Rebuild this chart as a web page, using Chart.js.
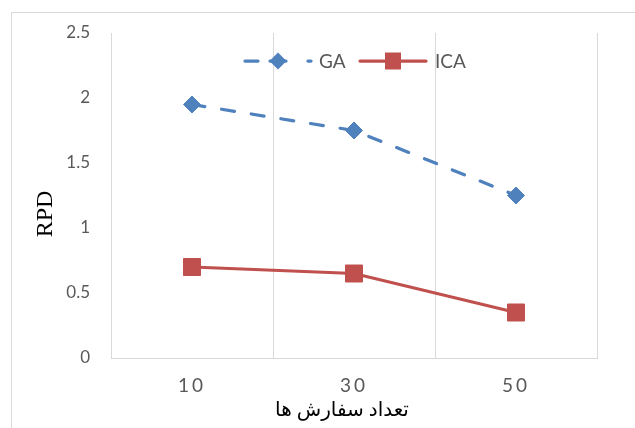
<!DOCTYPE html>
<html>
<head>
<meta charset="utf-8">
<script src="https://cdn.jsdelivr.net/npm/chart.js@4/dist/chart.umd.min.js"></script>
<style>
  html, body { margin: 0; padding: 0; background: #ffffff; }
  #wrap { width: 635px; height: 428px; position: relative; }
</style>
</head>
<body>
<div id="wrap"><canvas id="c" width="635" height="428"></canvas></div>
<script>
// ---- data ----
const categories = ['10', '30', '50'];
const gaValues = [1.95, 1.75, 1.25];
const icaValues = [0.70, 0.65, 0.35];
const yTickLabels = ['0', '0.5', '1', '1.5', '2', '2.5'];
const seriesNames = ['GA', 'ICA'];
const xTitle = 'تعداد سفارش ها';
const yTitle = 'RPD';

const BLUE = '#4F81BD';
const RED = '#C0504D';
const GRID = '#d9d9d9';
const TXT = '#595959';

// category scale with letter-spaced tick labels
class SpacedCategoryScale extends Chart.CategoryScale {
  drawLabels(area) {
    const ctx = this.ctx;
    ctx.save();
    ctx.letterSpacing = '3px';
    super.drawLabels(area);
    ctx.restore();
  }
}
SpacedCategoryScale.id = 'spacedCategory';
SpacedCategoryScale.defaults = Chart.CategoryScale.defaults;
Chart.register(SpacedCategoryScale);

const decor = {
  id: 'decor',
  beforeDraw(chart) {
    const ctx = chart.ctx;
    ctx.save();
    ctx.fillStyle = '#ffffff';
    ctx.fillRect(0, 0, chart.width, chart.height);
    ctx.strokeStyle = GRID;
    ctx.lineWidth = 1;
    ctx.strokeRect(11.5, 12.5, 800, 600);
    ctx.restore();
  },
  afterDraw(chart) {
    const ctx = chart.ctx;
    const a = chart.chartArea;
    ctx.save();
    // axis titles
    ctx.fillStyle = '#000000';
    ctx.font = '24px "Liberation Serif"';
    ctx.textAlign = 'center';
    ctx.textBaseline = 'middle';
    ctx.save();
    ctx.translate(46, 214);
    ctx.rotate(-Math.PI / 2);
    ctx.fillText(yTitle, 0, 0);
    ctx.restore();
    ctx.font = '20px "Liberation Serif", "DejaVu Sans"';
    ctx.direction = 'rtl';
    ctx.fillText(xTitle, a.left + (a.right - a.left) / 2 - 12, 411);
    ctx.direction = 'ltr';

    // legend
    const ly = 61;
    ctx.lineWidth = 3.25;
    ctx.lineCap = 'round';
    ctx.strokeStyle = BLUE;
    ctx.beginPath();
    ctx.moveTo(245, ly); ctx.lineTo(258, ly);
    ctx.moveTo(270, ly); ctx.lineTo(286, ly);
    ctx.moveTo(308, ly); ctx.lineTo(311, ly);
    ctx.stroke();
    ctx.fillStyle = BLUE;
    ctx.beginPath();
    ctx.moveTo(278, ly - 8.5); ctx.lineTo(286.5, ly); ctx.lineTo(278, ly + 8.5); ctx.lineTo(269.5, ly);
    ctx.closePath(); ctx.fill();
    ctx.strokeStyle = RED;
    ctx.beginPath();
    ctx.moveTo(360, ly); ctx.lineTo(426, ly);
    ctx.stroke();
    ctx.fillStyle = RED;
    ctx.fillRect(385, ly - 8.5, 16, 17);
    ctx.fillStyle = TXT;
    ctx.font = '19px Lato';
    ctx.textAlign = 'left';
    ctx.textBaseline = 'middle';
    ctx.fillText(seriesNames[0], 319, ly + 1);
    ctx.fillText(seriesNames[1], 435, ly + 1);
    ctx.restore();
  }
};

new Chart(document.getElementById('c'), {
  type: 'line',
  data: {
    labels: categories,
    datasets: [
      {
        label: seriesNames[0],
        data: gaValues,
        borderColor: BLUE,
        backgroundColor: BLUE,
        borderWidth: 3.25,
        borderDash: [13, 17],
        borderCapStyle: 'round',
        pointStyle: 'rectRot',
        pointRadius: 8.5,
        pointBorderWidth: 1,
        pointBackgroundColor: BLUE,
        pointBorderColor: BLUE,
        tension: 0
      },
      {
        label: seriesNames[1],
        data: icaValues,
        borderColor: RED,
        backgroundColor: RED,
        borderWidth: 3.25,
        borderCapStyle: 'round',
        pointStyle: 'rect',
        pointRadius: 12,
        pointBorderWidth: 1,
        pointBackgroundColor: RED,
        pointBorderColor: RED,
        tension: 0
      }
    ]
  },
  options: {
    responsive: false,
    animation: false,
    devicePixelRatio: 1,
    layout: { padding: { left: 0, top: 33, right: 38, bottom: 0 } },
    plugins: { legend: { display: false }, tooltip: { enabled: false } },
    scales: {
      x: {
        type: 'spacedCategory',
        offset: true,
        grid: { display: true, offset: true, color: GRID, lineWidth: 1, drawTicks: false },
        border: { display: true, color: GRID, width: 1 },
        ticks: { color: TXT, font: { family: 'Lato', size: 19 }, padding: 16, maxRotation: 0 },
        afterFit(s) { s.height = 70; }
      },
      y: {
        min: 0, max: 2.5,
        grid: { display: false, drawTicks: false },
        border: { display: false },
        ticks: {
          stepSize: 0.5,
          color: TXT,
          font: { family: 'Lato', size: 17 },
          padding: 21,
          callback: (v, i) => yTickLabels[i]
        },
        afterFit(s) { s.width = 111; }
      }
    }
  },
  plugins: [decor]
});
</script>
</body>
</html>
